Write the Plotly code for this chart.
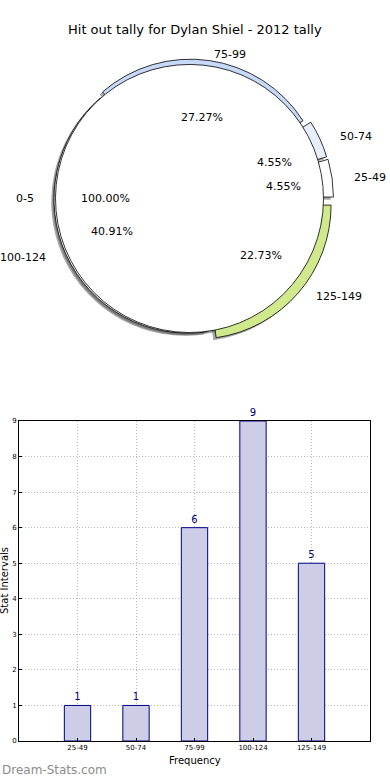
import math
import plotly.graph_objects as go

# ---------------- data ----------------
title_text = "Hit out tally for Dylan Shiel - 2012 tally"
categories = ["25-49", "50-74", "75-99", "100-124", "125-149"]
counts = [1, 1, 6, 9, 5]
slice_colors = ["#ffffff", "#e8eefc", "#c6d9f7", "#ffffff", "#d0e98c"]
slice_pulls = [0.075, 0.07, 0.04, 0.012, 0.075]
base_label = "0-5"
base_value = [1]
y_ticks = list(range(0, 10))

W, H = 390, 780


def px(x):
    return x / W


def py(y):
    return 1 - y / H


# pie geometry (pixels)
cx, cy = 189.5, 198.5
R = 134.0
RX, RY = 140.0, 128.0  # text placement radii
shadow_dx, shadow_dy = -2.8, 2.6
total = sum(counts)
# plotly (counterclockwise) ends the first slice at the rotation angle
pie_rotation = 90 - 360.0 * counts[0] / total


def dom(center_x, center_y, half):
    return dict(x=[px(center_x - half), px(center_x + half)],
                y=[py(center_y + half), py(center_y - half)])


fig = go.Figure()
max_pull = max(slice_pulls)
half_col = R * (1 + max_pull)

common = dict(sort=False, direction="counterclockwise", rotation=pie_rotation,
              textinfo="none", hoverinfo="skip", showlegend=False)

# shadows
fig.add_trace(go.Pie(labels=categories, values=counts, pull=slice_pulls,
                     marker=dict(colors=["rgba(77,77,77,0.5)"] * len(counts),
                                 line=dict(width=0)),
                     domain=dom(cx + shadow_dx, cy + shadow_dy, half_col), **common))
fig.add_trace(go.Pie(labels=[base_label], values=base_value,
                     marker=dict(colors=["rgba(77,77,77,0.5)"], line=dict(width=0)),
                     domain=dom(cx + shadow_dx, cy + shadow_dy, R), **common))
# coloured exploded pie
fig.add_trace(go.Pie(labels=categories, values=counts, pull=slice_pulls,
                     marker=dict(colors=slice_colors, line=dict(color="black", width=0.8)),
                     domain=dom(cx, cy, half_col), **common))
# base white pie
fig.add_trace(go.Pie(labels=[base_label], values=base_value,
                     marker=dict(colors=["#ffffff"], line=dict(color="black", width=0.8)),
                     domain=dom(cx, cy, R), **common))

annotations = []
font_lbl = dict(family="DejaVu Sans", size=11, color="black")


def add_pie_text(label, pct, theta_deg, pull):
    t = math.radians(theta_deg)
    c, s = math.cos(t), math.sin(t)
    lx = cx + (pull + 1.1) * RX * c
    ly = cy - (pull + 1.1) * RY * s
    annotations.append(dict(x=px(lx), y=py(ly), xref="paper", yref="paper",
                            text=label, showarrow=False, font=font_lbl,
                            xanchor="left" if c > 0 else "right", yanchor="middle"))
    tx = cx + (pull + 0.6) * RX * c
    ty = cy - (pull + 0.6) * RY * s
    annotations.append(dict(x=px(tx), y=py(ty), xref="paper", yref="paper",
                            text=pct, showarrow=False, font=font_lbl,
                            xanchor="center", yanchor="middle"))


cum = 0
for lab, cnt, pl in zip(categories, counts, slice_pulls):
    mid = 360.0 * (cum + cnt / 2) / total
    add_pie_text(lab, f"{100 * cnt / total:.2f}%", mid, pl)
    cum += cnt
add_pie_text(base_label, f"{100 * base_value[0] / sum(base_value):.2f}%", 180.0, 0.0)

# ---------------- bar chart ----------------
fig.add_trace(go.Bar(x=categories, y=counts, width=0.45,
                     marker=dict(color="#cdcde8", line=dict(color="#000080", width=1)),
                     text=[str(v) for v in counts], textposition="outside",
                     textfont=dict(family="DejaVu Sans", size=10, color="#000080"),
                     cliponaxis=False, hoverinfo="skip", showlegend=False))

axis_common = dict(showline=True, linecolor="black", linewidth=1, mirror=True,
                   showgrid=True, gridcolor="#b8b8b8", griddash="1px,2px", gridwidth=1,
                   ticks="inside", ticklen=3, tickcolor="black",
                   tickfont=dict(family="DejaVu Sans", size=7, color="black"),
                   automargin=False, zeroline=False)

fig.update_layout(
    width=W, height=H,
    margin=dict(l=0, r=0, t=0, b=0),
    paper_bgcolor="white", plot_bgcolor="white",
    showlegend=False,
    xaxis=dict(domain=[px(19), px(370)], range=[-1, 5], type="category",
               anchor="y", **axis_common),
    yaxis=dict(domain=[py(741), py(421)], range=[0, 9], tickvals=y_ticks,
               anchor="x", **axis_common),
    annotations=annotations + [
        dict(x=0.5, y=py(30), xref="paper", yref="paper", text=title_text,
             showarrow=False, font=dict(family="DejaVu Sans", size=13, color="black"),
             xanchor="center", yanchor="middle"),
        dict(x=px(194.5), y=py(760), xref="paper", yref="paper", text="Frequency",
             showarrow=False, font=dict(family="DejaVu Sans", size=10, color="black"),
             xanchor="center", yanchor="middle"),
        dict(x=px(4), y=py(581), xref="paper", yref="paper", text="Stat Intervals",
             showarrow=False, textangle=-90,
             font=dict(family="DejaVu Sans", size=10, color="black"),
             xanchor="center", yanchor="middle"),
        dict(x=0, y=py(770), xref="paper", yref="paper", text="Dream-Stats.com",
             showarrow=False, font=dict(family="DejaVu Sans", size=12, color="#8c8c8c"),
             xanchor="left", yanchor="middle"),
    ],
)

fig.write_html("out.html", config={"displayModeBar": False},
               post_script="document.body.style.margin='0';document.body.style.padding='0';")
